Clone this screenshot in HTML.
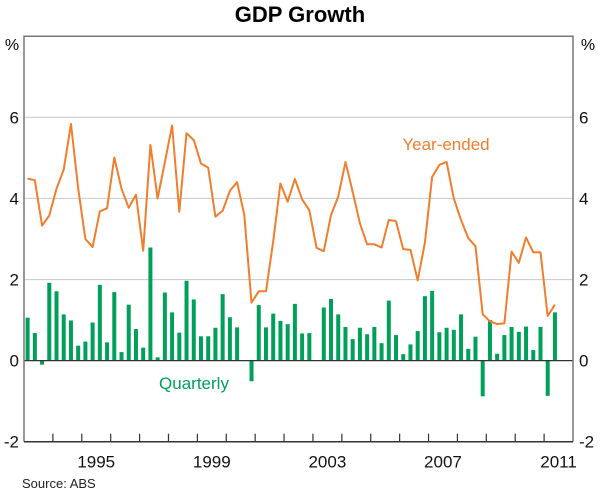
<!DOCTYPE html>
<html><head><meta charset="utf-8"><style>
body{margin:0;background:#fff;}
svg text{font-family:"Liberation Sans",Arial,sans-serif;}
</style></head><body>
<svg width="600" height="494" viewBox="0 0 600 494" xmlns="http://www.w3.org/2000/svg">
<text x="300" y="22" text-anchor="middle" font-size="22" font-weight="bold" fill="#000">GDP Growth</text>
<g id="grid"></g>
<g id="bars"></g>
<g id="line"></g>
<g id="axes"></g>
<text x="12" y="50" text-anchor="middle" font-size="16">%</text>
<text x="588" y="50" text-anchor="middle" font-size="16">%</text>
<text x="446" y="150" text-anchor="middle" font-size="17" fill="#f07e2e">Year-ended</text>
<text x="194" y="389" text-anchor="middle" font-size="17" fill="#00a05a">Quarterly</text>
<text x="22" y="488" font-size="13" fill="#222">Source: ABS</text>
</svg>
<script>
const quarterly=[1.06,0.68,-0.1,1.92,1.71,1.14,0.99,0.37,0.47,0.94,1.87,0.45,1.69,0.21,1.38,0.78,0.32,2.79,0.08,1.68,1.19,0.69,1.97,1.51,0.6,0.6,0.81,1.64,1.07,0.82,0.0,-0.51,1.37,0.82,1.16,0.98,0.9,1.4,0.67,0.68,0.0,1.31,1.52,1.14,0.83,0.53,0.81,0.65,0.83,0.43,1.48,0.63,0.16,0.4,0.73,1.59,1.72,0.7,0.81,0.76,1.14,0.29,0.59,-0.88,1.0,0.17,0.63,0.83,0.71,0.84,0.26,0.83,-0.87,1.19];
const yearEnded=[4.49,4.45,3.33,3.58,4.24,4.71,5.84,4.24,3.0,2.8,3.68,3.76,5.01,4.24,3.77,4.09,2.71,5.32,4.0,4.9,5.8,3.67,5.61,5.44,4.86,4.76,3.55,3.7,4.19,4.4,3.59,1.43,1.71,1.71,2.94,4.37,3.92,4.48,3.98,3.71,2.78,2.7,3.59,4.04,4.9,4.16,3.39,2.87,2.87,2.79,3.47,3.44,2.75,2.73,1.98,2.91,4.53,4.83,4.9,4.0,3.47,3.02,2.82,1.14,0.97,0.9,0.92,2.69,2.41,3.04,2.67,2.67,1.1,1.38];
const yTicks=[-2,0,2,4,6];
const yearLabels=[1995,1999,2003,2007,2011];
const startYear=1993, endYear=2012;
const L=24,R=573,T=36.3,B=441.7,yMin=-2,yMax=8;
const NS="http://www.w3.org/2000/svg";
function xYear(y){return L+(y-startYear)/(endYear-startYear)*(R-L);}
function xQ(i){return xYear(startYear+(i+0.5)/4);}
function yV(v){return B-(v-yMin)/(yMax-yMin)*(B-T);}
function mk(tag,a,parent){const e=document.createElementNS(NS,tag);for(const k in a)e.setAttribute(k,a[k]);document.getElementById(parent).appendChild(e);return e;}
yTicks.concat([8]).forEach(v=>{if(v>0){const g=mk('line',{x1:L,x2:R,y1:yV(v),y2:yV(v),stroke:'#cfcfcf','stroke-width':1.2},'grid');

}});
quarterly.forEach((v,i)=>{const y0=yV(0),y1=yV(v);const r=mk('rect',{x:xQ(i)-2,y:Math.min(y0,y1),width:4,height:Math.abs(y1-y0),fill:'#00a05a'},'bars');

});
const pts=yearEnded.map((v,i)=>xQ(i).toFixed(1)+','+yV(v).toFixed(1)).join(' ');
const pl=mk('polyline',{points:pts,fill:'none',stroke:'#f07e2e','stroke-width':2,'stroke-linejoin':'round'},'line');


const z=mk('line',{x1:L,x2:R,y1:yV(0),y2:yV(0),stroke:'#333','stroke-width':1.2},'axes');


const fr=mk('path',{d:`M${L},${B}V${T}H${R}V${B}`,fill:'none',stroke:'#777','stroke-width':1.5},'axes');


const bx=mk('line',{x1:L,x2:R,y1:B,y2:B,stroke:'#333','stroke-width':1.5},'axes');


for(let y=startYear+1;y<endYear;y++){const t=mk('line',{x1:xYear(y),x2:xYear(y),y1:B,y2:B-8,stroke:'#333','stroke-width':1.2},'axes');

}
yearLabels.forEach(y=>{const t=mk('text',{x:xYear(y+0.5),y:B+26,'text-anchor':'middle','font-size':17,fill:'#111'},'axes');t.textContent=y;

});
yTicks.forEach(v=>{const a=mk('text',{x:L-5,y:yV(v)+6,'text-anchor':'end','font-size':17,fill:'#111'},'axes');a.textContent=v;


const b=mk('text',{x:R+6,y:yV(v)+6,'text-anchor':'start','font-size':17,fill:'#111'},'axes');b.textContent=v;

});
</script>
</body></html>
